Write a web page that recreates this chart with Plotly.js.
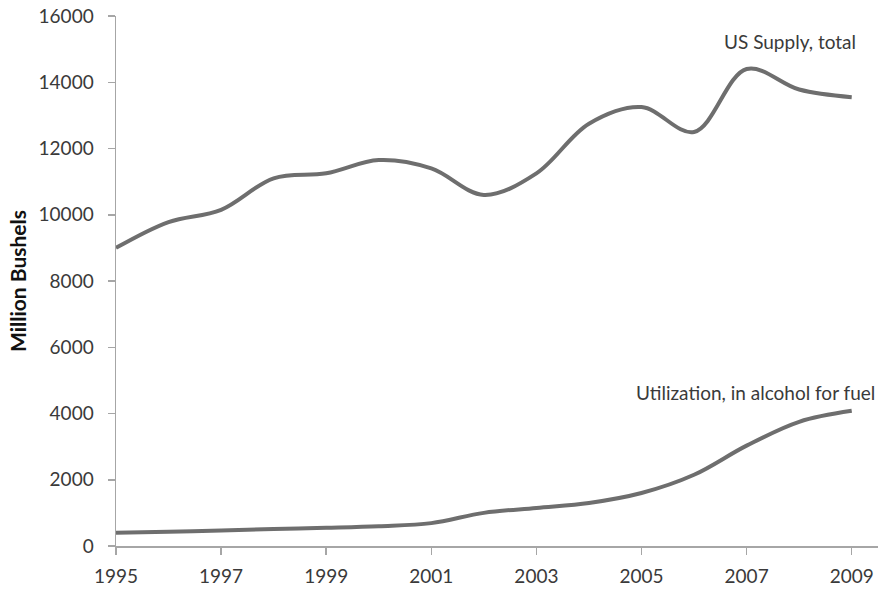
<!DOCTYPE html>
<html>
<head>
<meta charset="utf-8">
<script src="https://cdn.plot.ly/plotly-3.0.1.min.js"></script>
<style>html,body{margin:0;padding:0;background:#fff;}#chart{width:879px;height:593px;}</style>
</head>
<body>
<div id="chart"></div>
<script>
var years = [1995,1996,1997,1998,1999,2000,2001,2002,2003,2004,2005,2006,2007,2008,2009];
var usSupply = [9000,9780,10150,11100,11250,11650,11400,10600,11250,12750,13250,12500,14400,13780,13550];
var alcoholFuel = [400,430,470,510,550,600,690,1000,1150,1300,1600,2150,3030,3750,4080];
var tickYears = [1995,1997,1999,2001,2003,2005,2007,2009];
var tickLabels = ["1995","1997","1999","2001","2003","2005","2007","2009"];
var seriesNames = ["US Supply, total","Utilization, in alcohol for fuel"];

var lineStyle = {color:'#6e6e6e', width:4, shape:'spline', smoothing:1};
var traces = [
  {x:years, y:usSupply, type:'scatter', mode:'lines', name:seriesNames[0], line:lineStyle, hoverinfo:'x+y'},
  {x:years, y:alcoholFuel, type:'scatter', mode:'lines', name:seriesNames[1], line:lineStyle, hoverinfo:'x+y'}
];
var fam = 'Lato, "Open Sans", sans-serif';
var font = {family:fam, size:19, color:'#3a3a3a'};
var layout = {
  width:879, height:593,
  margin:{l:116, r:1, t:16, b:47},
  paper_bgcolor:'#fff', plot_bgcolor:'#fff',
  showlegend:false,
  font:font,
  xaxis:{range:[1995,2009.5], tickmode:'array', tickvals:tickYears, ticktext:tickLabels,
    showgrid:false, zeroline:false, showline:true, linecolor:'#a6a6a6', linewidth:1.5,
    ticks:'outside', ticklen:7, tickcolor:'#a6a6a6', tickwidth:1.5, tickfont:font,
    ticklabelstandoff:6, fixedrange:true},
  yaxis:{range:[0,16000], dtick:2000, tick0:0, tickformat:'d', showgrid:false, zeroline:false,
    showline:true, linecolor:'#a6a6a6', linewidth:1.5, ticks:'outside', ticklen:7,
    tickcolor:'#a6a6a6', tickwidth:1.5, tickfont:font, ticklabelstandoff:10,
    title:{text:'<b>Million Bushels</b>', font:{family:fam, size:21, color:'#111'}, standoff:6},
    fixedrange:true},
  annotations:[
    {x:2007.83, y:15230, xref:'x', yref:'y', text:seriesNames[0], showarrow:false, font:font},
    {x:2007.16, y:4630, xref:'x', yref:'y', text:seriesNames[1], showarrow:false, font:font}
  ]
};
Plotly.newPlot('chart', traces, layout, {displayModeBar:false, staticPlot:true});
</script>
</body>
</html>
